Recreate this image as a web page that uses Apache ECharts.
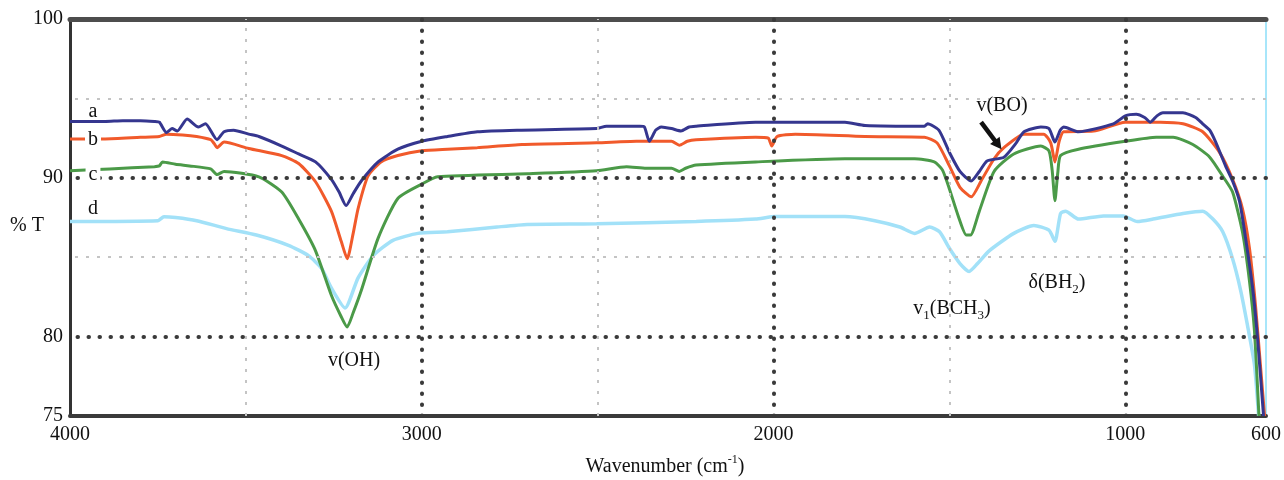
<!DOCTYPE html>
<html>
<head>
<meta charset="utf-8">
<script src="https://cdn.jsdelivr.net/npm/echarts@6/dist/echarts.min.js"></script>
<style>html,body{margin:0;padding:0;background:#fff}#chart{width:1284px;height:480px}</style>
</head>
<body>
<div id="chart"></div>
<script>
// ---- data (wavenumber cm-1, %T) ----
const xTickLabels = [4000, 3000, 2000, 1000, 600];
const yTickLabels = [100, 90, 80, 75];
const majorGridX = [3000, 2000, 1000];
const minorGridX = [3500, 2500, 1500];
const majorGridY = [80, 90];
const minorGridY = [85, 95];
const seriesNames = ['a', 'b', 'c', 'd'];

const curveA = [
[4000,93.55],[3900,93.55],[3850,93.6],[3800,93.6],[3760,93.55],[3746,93.5],[3726,92.85],[3710,93.1],[3695,92.95],[3667,93.7],[3635,93.2],[3615,93.4],[3582,92.4],[3562,92.9],[3535,93.0],[3492,92.75],[3463,92.6],[3398,92.0],[3350,91.5],[3302,91.0],[3257,89.9],[3235,89.1],[3215,88.25],[3195,89.0],[3172,89.8],[3124,91.0],[3068,91.8],[3000,92.3],[2927,92.6],[2842,92.9],[2729,93.0],[2503,93.1],[2475,93.25],[2380,93.25],[2367,93.2],[2353,92.3],[2335,93.0],[2319,93.2],[2290,93.1],[2263,92.95],[2240,93.2],[2220,93.25],[2051,93.5],[1797,93.5],[1740,93.3],[1571,93.25],[1562,93.4],[1530,93.0],[1500,91.6],[1470,90.4],[1438,89.8],[1415,90.4],[1393,91.06],[1345,91.3],[1310,92.2],[1288,92.9],[1240,93.2],[1217,93.1],[1200,92.25],[1185,93.0],[1175,93.2],[1133,92.9],[1034,93.4],[1000,93.9],[969,94.0],[945,93.8],[929,93.5],[910,93.9],[893,94.1],[836,94.1],[800,93.8],[780,93.4],[760,93.0],[743,92.25],[715,90.75],[695,89.8],[675,88.5],[658,86.2],[638,83.06],[624,79.9],[607,75]
];
const curveB = [
[4000,92.45],[3900,92.45],[3800,92.55],[3746,92.6],[3726,92.75],[3680,92.7],[3640,92.6],[3600,92.4],[3590,92.15],[3582,91.9],[3562,92.25],[3492,91.85],[3398,91.4],[3350,90.9],[3302,89.75],[3257,87.9],[3229,86.0],[3212,84.9],[3195,86.5],[3181,88.06],[3153,90.1],[3116,91.0],[3068,91.4],[3000,91.7],[2927,91.8],[2842,91.9],[2715,92.1],[2503,92.2],[2390,92.3],[2290,92.3],[2268,92.05],[2245,92.3],[2220,92.4],[2051,92.56],[2015,92.5],[2005,92.0],[1990,92.6],[1938,92.75],[1740,92.6],[1571,92.56],[1535,92.2],[1500,90.75],[1470,89.4],[1438,88.8],[1410,89.8],[1373,91.2],[1345,91.9],[1288,92.75],[1232,92.75],[1212,92.2],[1200,91.0],[1188,92.3],[1175,92.9],[1090,92.94],[1000,93.5],[900,93.5],[836,93.4],[780,92.9],[732,91.6],[695,89.9],[667,88.06],[647,85.56],[630,82.0],[616,78.25],[604,75]
];
const curveC = [
[4000,90.44],[3887,90.56],[3760,90.7],[3746,90.75],[3737,91.0],[3700,90.85],[3660,90.75],[3600,90.56],[3582,90.2],[3562,90.4],[3463,90.06],[3398,89.1],[3350,87.4],[3302,85.4],[3257,82.6],[3230,81.3],[3212,80.6],[3195,81.5],[3172,82.9],[3124,86.2],[3068,88.7],[3000,89.6],[2955,90.06],[2700,90.25],[2503,90.44],[2418,90.7],[2362,90.6],[2290,90.6],[2268,90.4],[2250,90.6],[2220,90.8],[2051,91.0],[1797,91.2],[1599,91.2],[1543,91.0],[1520,90.5],[1500,89.3],[1475,87.6],[1452,86.4],[1440,86.4],[1415,87.9],[1373,90.4],[1317,91.5],[1240,92.0],[1217,91.7],[1208,90.5],[1200,88.56],[1192,90.3],[1184,91.4],[1133,91.8],[1000,92.3],[912,92.56],[864,92.56],[808,92.1],[760,91.3],[723,90.1],[695,89.1],[667,86.6],[647,83.5],[633,80.4],[620,75]
];
const curveD = [
[4000,87.25],[3750,87.3],[3733,87.55],[3700,87.5],[3640,87.3],[3555,86.8],[3470,86.4],[3379,85.75],[3322,85.1],[3285,84.3],[3257,83.06],[3218,81.8],[3181,83.7],[3138,85.1],[3082,86.06],[3011,86.5],[2927,86.6],[2786,86.9],[2700,87.06],[2503,87.1],[2220,87.25],[2051,87.4],[1995,87.56],[1797,87.56],[1712,87.3],[1641,86.9],[1599,86.5],[1556,86.9],[1528,86.6],[1500,85.56],[1470,84.6],[1444,84.1],[1420,84.6],[1387,85.4],[1317,86.5],[1260,87.0],[1217,86.7],[1200,86.0],[1184,87.75],[1170,87.9],[1133,87.4],[1062,87.6],[1006,87.6],[966,87.25],[921,87.4],[836,87.75],[780,87.9],[751,87.4],[723,86.6],[695,84.9],[672,82.9],[653,80.75],[633,78.25],[621,75]
];

const curves = [curveA, curveB, curveC, curveD];
const colors = ['#35368f', '#f15a2b', '#4b9a48', '#a2e1f8'];
const widths = [3, 3, 3, 3.5];

const FONT = "'Liberation Serif', 'Times New Roman', serif";
const chart = echarts.init(document.getElementById('chart'), null, {renderer: 'canvas'});

const majorStyle = {color: '#3a3a3a', width: 4, type: [0.5, 10.5], cap: 'round'};
const minorStyle = {color: '#c4c4c4', width: 2, type: [3, 8]};
const gridLines = []
  .concat(majorGridY.map(v => ({yAxis: v, lineStyle: majorStyle})))
  .concat(majorGridX.map(v => ({xAxis: v, lineStyle: majorStyle})))
  .concat(minorGridY.map(v => ({yAxis: v, lineStyle: minorStyle})))
  .concat(minorGridX.map(v => ({xAxis: v, lineStyle: minorStyle})));

const series = [];
for (let i = curves.length - 1; i >= 0; i--) {
  series.push({
    name: seriesNames[i], type: 'line', data: curves[i], showSymbol: false, symbol: 'none',
    smooth: 0.2, z: 2,
    lineStyle: {color: colors[i], width: widths[i]}
  });
}
series.push({
  type: 'line', data: [], z: 5, silent: true,
  markLine: {silent: true, symbol: ['none', 'none'], label: {show: false}, animation: false, data: gridLines}
});

const sub = {fontFamily: FONT, fontSize: 13, lineHeight: 10, verticalAlign: 'bottom', fill: '#111'};
const nrm = {fontFamily: FONT, fontSize: 20, lineHeight: 26, fill: '#111'};

function txt(x, y, text, extra) {
  return Object.assign({
    type: 'text', x: x, y: y, z: 20,
    style: Object.assign({text: text, fontFamily: FONT, fontSize: 20, fill: '#111', align: 'center', verticalAlign: 'middle', rich: {n: nrm, s: sub}}, extra || {})
  });
}

chart.setOption({
  animation: false,
  backgroundColor: '#fff',
  grid: {left: 70, right: 11, top: 19, bottom: 64, containLabel: false},
  xAxis: [{
    type: 'value', inverse: true, min: 600, max: 4000, interval: 100,
    axisLine: {show: true, lineStyle: {color: '#3a3a3a', width: 4}},
    axisTick: {show: false}, splitLine: {show: false},
    axisLabel: {margin: 9, fontFamily: FONT, fontSize: 20, color: '#111',
      formatter: v => xTickLabels.includes(v) ? String(v) : ''}
  }, {
    type: 'value', inverse: true, min: 600, max: 4000, position: 'top',
    axisLine: {show: true, onZero: false, lineStyle: {color: '#4d4d4d', width: 5}},
    axisTick: {show: false}, splitLine: {show: false}, axisLabel: {show: false}
  }],
  yAxis: [{
    type: 'value', min: 75, max: 100, interval: 5,
    axisLine: {show: true, lineStyle: {color: '#333', width: 3}},
    axisTick: {show: false}, splitLine: {show: false},
    axisLabel: {margin: 7, fontFamily: FONT, fontSize: 20, color: '#111',
      formatter: v => yTickLabels.includes(v) ? String(v) : ''}
  }, {
    type: 'value', min: 75, max: 100, position: 'right',
    axisLine: {show: true, onZero: false, lineStyle: {color: '#a8e6fa', width: 2}},
    axisTick: {show: false}, splitLine: {show: false}, axisLabel: {show: false}
  }],
  series: series
});

// arrow for v(BO)
const p0 = chart.convertToPixel({xAxisIndex: 0, yAxisIndex: 0}, [1410, 93.5]);
const p1 = chart.convertToPixel({xAxisIndex: 0, yAxisIndex: 0}, [1352, 91.8]);
const dx = p1[0] - p0[0], dy = p1[1] - p0[1], L = Math.hypot(dx, dy);
const ux = dx / L, uy = dy / L, px = -uy, py = ux;
const hb = [p1[0] - 11 * ux, p1[1] - 11 * uy];

chart.setOption({
  graphic: [
    txt(27, 226, '% T'),
    txt(665, 467, '{n|Wavenumber (cm}{p|-1}{n|)}', {rich: {
      n: {fontFamily: FONT, fontSize: 20, lineHeight: 26, fill: '#111'},
      p: {fontFamily: FONT, fontSize: 12, lineHeight: 13, verticalAlign: 'top', fill: '#111'}}}),
    txt(93, 112, 'a'),
    txt(93, 140, 'b', {backgroundColor: '#fff', padding: [0, 3]}),
    txt(93, 175, 'c', {backgroundColor: '#fff', padding: [0, 3]}),
    txt(93, 209, 'd'),
    txt(354, 361, 'v(OH)'),
    txt(1002, 106, 'v(BO)'),
    txt(952, 309, '{n|v}{s|1}{n|(BCH}{s|3}{n|)}'),
    txt(1057, 283, '{n|δ(BH}{s|2}{n|)}'),
    {type: 'line', z: 20, shape: {x1: p0[0], y1: p0[1], x2: hb[0] + 2 * ux, y2: hb[1] + 2 * uy},
      style: {stroke: '#111', lineWidth: 4.5}},
    {type: 'polygon', z: 20, shape: {points: [p1, [hb[0] + 6 * px, hb[1] + 6 * py], [hb[0] - 6 * px, hb[1] - 6 * py]]},
      style: {fill: '#111'}}
  ]
});
</script>
</body>
</html>
